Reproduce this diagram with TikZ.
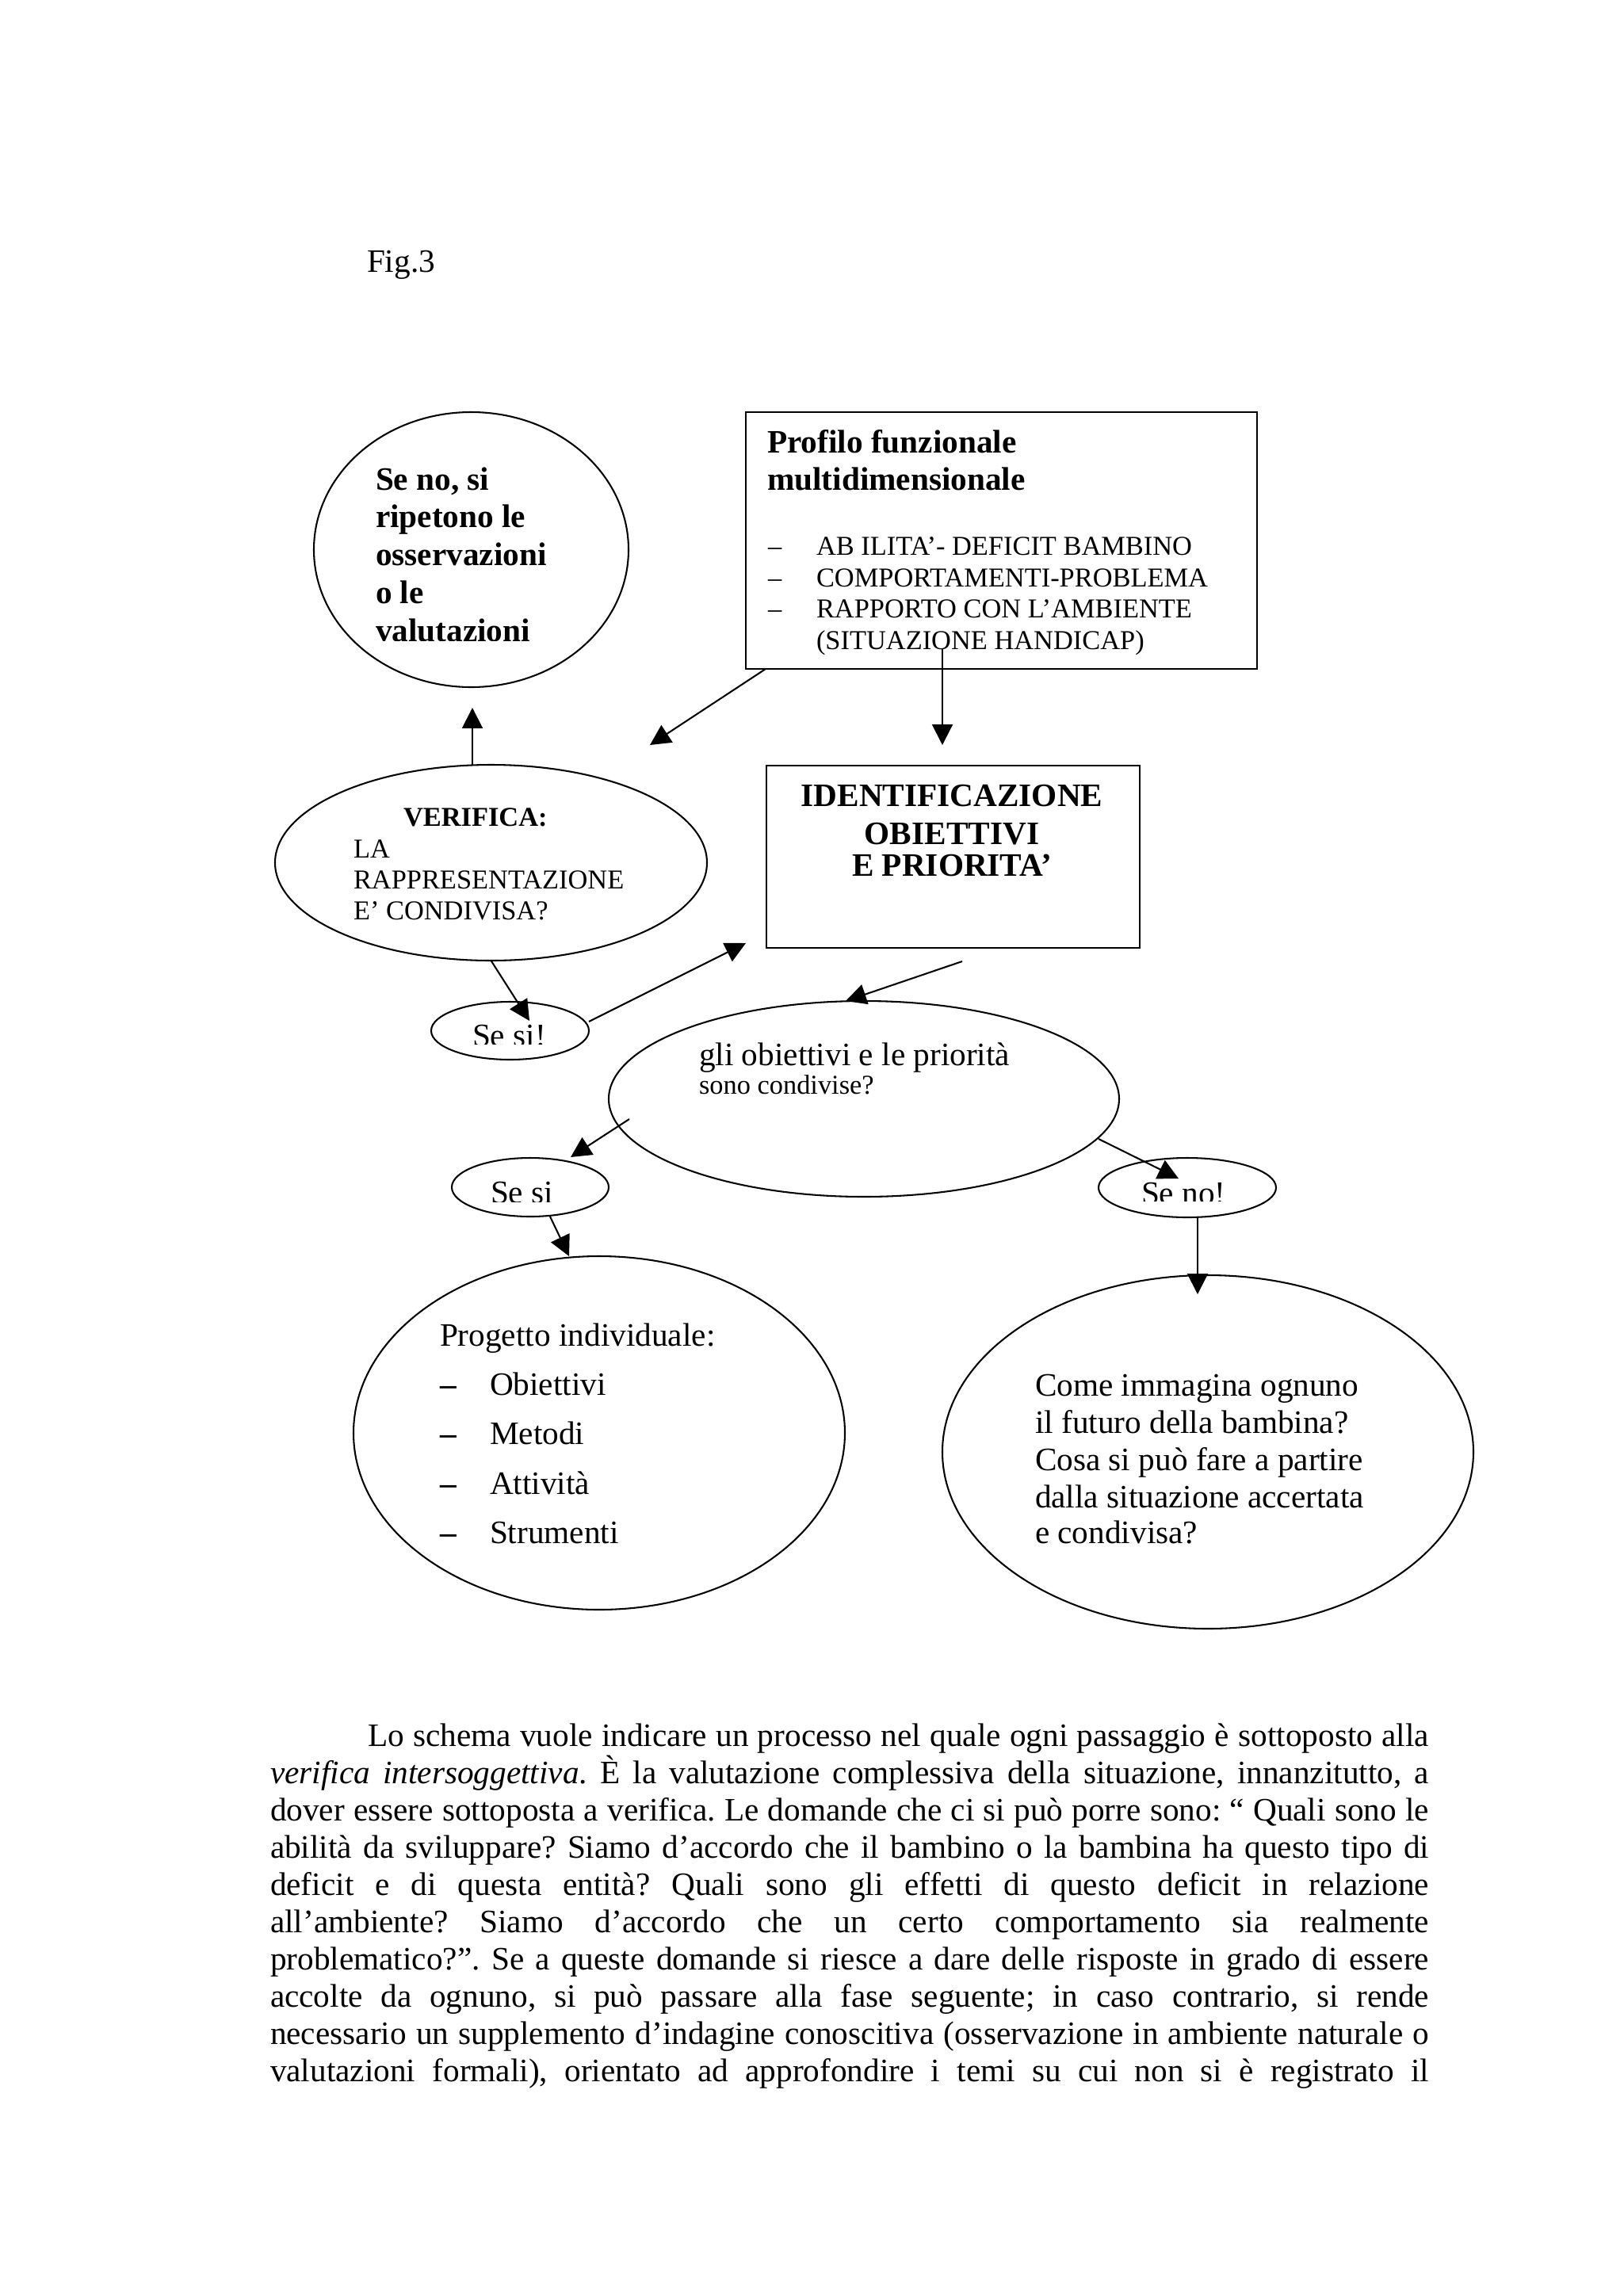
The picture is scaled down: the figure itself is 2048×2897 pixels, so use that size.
\documentclass[tikz,border=0pt]{standalone}
\usepackage{fontspec}
\setmainfont{Liberation Serif}
\usetikzlibrary{arrows.meta,shapes.geometric,calc}
\frenchspacing
\tikzset{
  sz/.style 2 args={minimum width={#1*0.290664pt}, minimum height={#2*0.290664pt}},
  ell/.style={draw, ellipse, line width=0.6pt, inner sep=0pt, outer sep=0pt},
  bx/.style={draw, rectangle, line width=0.8pt, inner sep=0pt, outer sep=0pt},
  txt/.style={anchor=base west, inner sep=0pt, outer sep=0pt, font=\fontsize{12pt}{14pt}\selectfont},
  txtb/.style={anchor=base west, inner sep=0pt, outer sep=0pt, font=\fontsize{12pt}{14pt}\selectfont\bfseries},
  txtc/.style={anchor=base, inner sep=0pt, outer sep=0pt, font=\fontsize{12pt}{14pt}\selectfont\bfseries},
  sm/.style={anchor=base west, inner sep=0pt, outer sep=0pt, font=\fontsize{10pt}{12pt}\selectfont},
  smb/.style={anchor=base west, inner sep=0pt, outer sep=0pt, font=\fontsize{10pt}{12pt}\selectfont\bfseries},
  arr/.style={-{Triangle[length=7.5pt,width=7.5pt]}, line width=0.6pt},
}
\begin{document}
\frenchspacing
\begin{tikzpicture}[x=0.290664pt,y=-0.290664pt]
\useasboundingbox (0,0) rectangle (2048,2897);

% caption
\node[txt] (fig) at (463,343) {Fig.3};

% shapes
\node[ell, sz={397}{347}] (senoc) at (594.5,693.5) {};
\node[bx, sz={645}{324}, anchor=north west] (prof) at (941,520) {};
\node[ell, sz={545}{247}] (ver) at (619.5,1088.5) {};
\node[bx, sz={471}{230}, anchor=north west] (ident) at (967,966) {};
\node[ell, sz={199}{73}] (sesi1) at (643.5,1300.5) {};
\node[ell, sz={644}{247}] (gli) at (1090,1386.5) {};
\node[ell, sz={198}{74}] (sesi2) at (669,1498) {};
\node[ell, sz={224}{75}] (seno) at (1498,1498.5) {};
\node[ell, sz={620}{446}] (prog) at (756,1808) {};
\node[ell, sz={670}{446}] (come) at (1524,1832) {};

% texts: Se no circle
\begin{scope}
\clip (420,560) rectangle (780,808);
\node[txtb] (sn1) at (474,618) {Se no, si};
\node[txtb] (sn2) at (474,665) {ripetono le};
\node[txtb] (sn3) at (474,713) {osservazioni};
\node[txtb] (sn4) at (474,761) {o le};
\node[txtb] (sn5) at (474,809) {valutazioni};
\end{scope}

% Profilo box
\node[txtb] (pf1) at (968,571) {Profilo funzionale};
\node[txtb] (pf2) at (968,618) {multidimensionale};
\node[sm] (pd1) at (969,700) {–};
\node[sm] (pl1) at (1030,700) {AB ILITA’- DEFICIT BAMBINO};
\node[sm] (pd2) at (969,740) {–};
\node[sm] (pl2) at (1030,740) {COMPORTAMENTI-PROBLEMA};
\node[sm] (pd3) at (969,779) {–};
\node[sm] (pl3) at (1030,779) {RAPPORTO CON L’AMBIENTE};
\node[sm] (pl4) at (1030,819) {(SITUAZIONE HANDICAP)};

% Verifica
\node[smb] (v1) at (509,1042) {VERIFICA:};
\node[sm] (v2) at (446,1082) {LA};
\node[sm] (v3) at (446,1121) {RAPPRESENTAZIONE};
\node[sm] (v4) at (446,1160) {E’ CONDIVISA?};

% Identificazione
\node[txtc] (id1) at (1201,1017) {IDENTIFICAZIONE};
\node[txtc] (id2) at (1201,1065) {OBIETTIVI};
\node[txtc] (id3) at (1201,1105) {E PRIORITA’};

% small ellipses (text cut at the bottom)
\begin{scope}
\clip (560,1270) rectangle (730,1317);
\node[txt] (s1t) at (596,1320) {Se si!};
\end{scope}
\begin{scope}
\clip (590,1468) rectangle (760,1516);
\node[txt] (s2t) at (619,1518) {Se si};
\end{scope}
\begin{scope}
\clip (1400,1468) rectangle (1600,1515);
\node[txt] (s3t) at (1440,1519) {Se no!};
\end{scope}

% gli obiettivi
\node[txt] (g1) at (882,1344) {gli obiettivi e le priorità};
\node[sm] (g2) at (882,1380) {sono condivise?};

% Progetto
\node[txt] (p0) at (555,1698) {Progetto individuale:};
\node[txt] (pd1b) at (555,1760) {\textbf{–}};
\node[txt] (p1) at (618,1760) {Obiettivi};
\node[txt] (pd2b) at (555,1822) {\textbf{–}};
\node[txt] (p2) at (618,1822) {Metodi};
\node[txt] (pd3b) at (555,1885) {\textbf{–}};
\node[txt] (p3) at (618,1885) {Attività};
\node[txt] (pd4b) at (555,1947) {\textbf{–}};
\node[txt] (p4) at (618,1947) {Strumenti};

% Come
\node[txt] (c1) at (1306,1761) {Come immagina ognuno};
\node[txt] (c2) at (1306,1808) {il futuro della bambina?};
\node[txt] (c3) at (1306,1855) {Cosa si può fare a partire};
\node[txt] (c4) at (1306,1902) {dalla situazione accertata};
\node[txt] (c5) at (1306,1947) {e condivisa?};

% connectors
\coordinate (a1e) at (820,940);
\draw[arr] ($(prof.south west)+(25,0)$) -- (a1e);
\coordinate (a2s) at (1189,818);
\coordinate (a2e) at (1189,940);
\draw[arr] (a2s) -- (a2e);
\coordinate (a3e) at (596,893);
\draw[arr] (a3e |- ver.north) -- (a3e);
\coordinate (a4e) at (668,1288);
\draw[arr] (ver.south) -- (a4e);
\coordinate (a5s) at (743,1289);
\coordinate (a5e) at (941,1190);
\draw[arr] (a5s) -- (a5e);
\coordinate (a6s) at (1214,1213);
\coordinate (a6e) at (1067,1263);
\draw[arr] (a6s) -- (a6e);
\coordinate (a7s) at (794,1412);
\coordinate (a7e) at (720,1460);
\draw[arr] (a7s) -- (a7e);
\coordinate (a8s) at (1386,1437);
\coordinate (a8e) at (1487,1487);
\draw[arr] (a8s) -- (a8e);
\coordinate (a9s) at (694,1535);
\coordinate (a9e) at (718,1585);
\draw[arr] (a9s) -- (a9e);
\coordinate (a10e) at (1511,1633);
\draw[arr] (a10e |- seno.south) -- (a10e);

% paragraph
\node[txt] (l1) at (464,2203) {\makebox[389.2pt][s]{Lo schema vuole indicare un processo nel quale ogni passaggio è sottoposto alla}};
\node[txt] (l2) at (341,2250) {\makebox[424.95pt][s]{\textit{verifica intersoggettiva}. È la valutazione complessiva della situazione, innanzitutto, a}};
\node[txt] (l3) at (341,2297) {\makebox[424.95pt][s]{dover essere sottoposta a verifica. Le domande che ci si può porre sono: “ Quali sono le}};
\node[txt] (l4) at (341,2344) {\makebox[424.95pt][s]{abilità da sviluppare? Siamo d’accordo che il bambino o la bambina ha questo tipo di}};
\node[txt] (l5) at (341,2391) {\makebox[424.95pt][s]{deficit e di questa entità? Quali sono gli effetti di questo deficit in relazione}};
\node[txt] (l6) at (341,2438) {\makebox[424.95pt][s]{all’ambiente? Siamo d’accordo che un certo comportamento sia realmente}};
\node[txt] (l7) at (341,2485) {\makebox[424.95pt][s]{problematico?”. Se a queste domande si riesce a dare delle risposte in grado di essere}};
\node[txt] (l8) at (341,2532) {\makebox[424.95pt][s]{accolte da ognuno, si può passare alla fase seguente; in caso contrario, si rende}};
\node[txt] (l9) at (341,2579) {\makebox[424.95pt][s]{necessario un supplemento d’indagine conoscitiva (osservazione in ambiente naturale o}};
\node[txt] (l10) at (341,2626) {\makebox[424.95pt][s]{valutazioni formali), orientato ad approfondire i temi su cui non si è registrato il}};
\end{tikzpicture}
\end{document}
